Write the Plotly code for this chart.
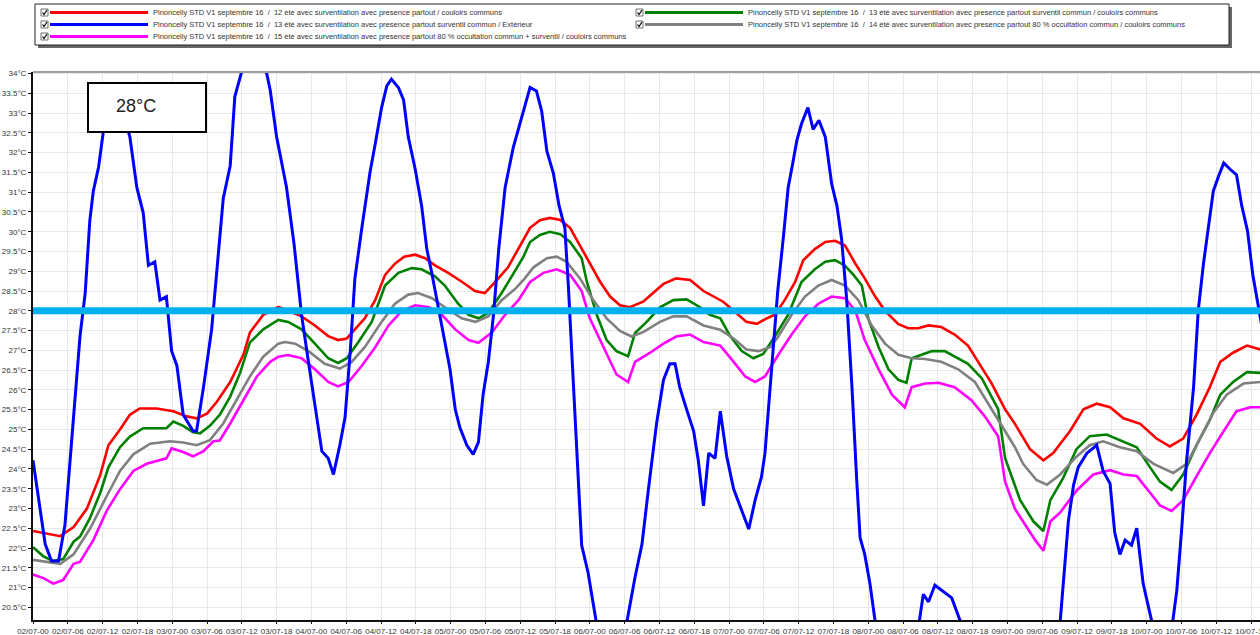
import pandas as pd
import plotly.graph_objects as go

# ---------------- data (hours since 02/07 00:00, temperature in °C) ----------------
START = pd.Timestamp("2016-07-02 00:00")
X_END_HOURS = 211.55
Y_MIN, Y_MAX = 20.18, 34.04
THRESHOLD = 28.0
THRESHOLD_LABEL = "28°C"

name_red = "Pinoncelly STD V1 septembre 16\u00a0 /\u00a0 12 été avec surventilation avec presence partout / couloirs communs"
name_blue = "Pinoncelly STD V1 septembre 16\u00a0 /\u00a0 13 été avec surventilation avec presence partout surventil commun / Extérieur"
name_magenta = "Pinoncelly STD V1 septembre 16\u00a0 /\u00a0 15 été avec surventilation avec presence partout 80 % occultation commun + surventil / couloirs communs"
name_green = "Pinoncelly STD V1 septembre 16\u00a0 /\u00a0 13 été avec surventilation avec presence partout surventil commun / couloirs communs"
name_gray = "Pinoncelly STD V1 septembre 16\u00a0 /\u00a0 14 été avec surventilation avec presence partout 80 % occultation commun / couloirs communs"

red_points = [(0, 22.43), (2.9, 22.34), (4.7, 22.30), (7.0, 22.53), (9.3, 23.0), (11.6, 23.85), (13.0, 24.6),
              (15.0, 25.0), (16.7, 25.37), (18.4, 25.53), (21.3, 25.53), (24.2, 25.46), (26.5, 25.33), (28.2, 25.28),
              (30.0, 25.4), (31.7, 25.7), (34.0, 26.2), (36.3, 26.9), (37.4, 27.45), (39.7, 27.9), (42.3, 28.1),
              (44.0, 28.0), (46.3, 27.86), (48.6, 27.63), (50.9, 27.36), (52.6, 27.26), (54.1, 27.3), (55.5, 27.53),
              (57.2, 27.81), (59.0, 28.27), (60.7, 28.91), (62.4, 29.19), (64.0, 29.37), (65.9, 29.42), (67.6, 29.33),
              (69.3, 29.15), (71.6, 28.96), (74.0, 28.73), (76.2, 28.5), (77.9, 28.45), (79.7, 28.73), (81.9, 29.1),
              (83.7, 29.56), (85.7, 30.1), (87.4, 30.29), (89.1, 30.35), (90.9, 30.3), (92.6, 30.1), (94.3, 29.65),
              (96.0, 29.19), (97.8, 28.73), (99.5, 28.36), (101.2, 28.14), (102.9, 28.09), (105.2, 28.23), (106.9, 28.45),
              (108.7, 28.68), (110.9, 28.82), (113.3, 28.78), (115.6, 28.5), (117.3, 28.36), (119.0, 28.23), (120.8, 28.0),
              (123.0, 27.72), (124.8, 27.67), (126.5, 27.81), (127.9, 27.9), (129.6, 28.27), (131.4, 28.73), (132.8, 29.28),
              (134.8, 29.56), (136.6, 29.74), (138.3, 29.77), (140.0, 29.65), (141.8, 29.19), (143.4, 28.82), (145.2, 28.36),
              (146.9, 28.0), (149.2, 27.66), (150.9, 27.56), (152.6, 27.56), (154.4, 27.63), (156.6, 27.59), (158.9, 27.4),
              (161.2, 27.12), (163.0, 26.71), (165.3, 26.16), (167.6, 25.51), (169.3, 25.14), (171.9, 24.5), (174.2, 24.22),
              (175.9, 24.4), (178.8, 24.96), (181.1, 25.51), (183.4, 25.65), (185.7, 25.56), (188.0, 25.28), (190.9, 25.14),
              (193.7, 24.77), (196.0, 24.57), (198.3, 24.77), (200.6, 25.37), (202.9, 26.07), (204.7, 26.71), (206.9, 26.94),
              (209.3, 27.12), (211.6, 27.02)]

green_points = [(0, 22.02), (1.8, 21.79), (3.5, 21.67), (5.2, 21.72), (7.0, 22.16), (8.1, 22.29), (9.8, 22.75),
                (11.6, 23.4), (13.0, 24.04), (15.0, 24.55), (16.7, 24.82), (19.0, 25.03), (23.0, 25.03), (24.2, 25.2),
                (25.9, 25.09), (27.6, 24.93), (28.8, 24.9), (30.5, 25.09), (32.2, 25.37), (34.0, 25.83), (35.7, 26.43),
                (37.4, 27.2), (39.7, 27.53), (42.3, 27.77), (44.0, 27.72), (46.3, 27.53), (48.6, 27.17), (50.9, 26.8),
                (52.6, 26.68), (54.1, 26.8), (56.1, 27.21), (58.4, 27.72), (60.7, 28.64), (63.0, 28.96), (65.3, 29.08),
                (67.0, 29.05), (69.3, 28.87), (71.0, 28.64), (73.3, 28.18), (75.1, 27.9), (76.8, 27.81), (78.5, 27.95),
                (80.8, 28.45), (83.1, 29.0), (84.5, 29.35), (85.7, 29.74), (87.4, 29.92), (89.1, 30.0), (90.9, 29.94),
                (92.6, 29.74), (94.6, 29.33), (95.5, 28.73), (97.2, 27.9), (98.9, 27.26), (100.6, 26.98), (102.6, 26.85),
                (103.8, 27.44), (105.8, 27.72), (108.1, 28.09), (110.4, 28.27), (112.7, 28.29), (115.0, 28.09), (116.7, 27.9),
                (118.5, 27.81), (120.2, 27.36), (122.2, 26.98), (124.2, 26.8), (125.9, 26.91), (127.9, 27.35), (130.2, 27.9),
                (132.5, 28.73), (134.8, 29.05), (136.6, 29.24), (138.3, 29.28), (140.0, 29.14), (141.4, 28.92), (142.9, 28.64),
                (144.0, 27.81), (145.8, 27.08), (147.5, 26.52), (149.2, 26.25), (150.6, 26.18), (151.5, 26.8), (153.2, 26.89),
                (155.0, 26.98), (157.2, 26.98), (158.9, 26.85), (161.2, 26.66), (163.6, 26.29), (166.4, 25.51), (167.6, 24.27),
                (168.4, 23.95), (170.2, 23.21), (172.5, 22.67), (174.2, 22.43), (175.4, 23.21), (177.6, 23.77), (179.9, 24.5),
                (182.2, 24.83), (185.1, 24.87), (188.0, 24.68), (190.3, 24.55), (192.6, 24.04), (194.3, 23.68), (196.3, 23.47),
                (198.3, 23.86), (200.6, 24.6), (202.9, 25.24), (204.7, 25.88), (206.9, 26.2), (209.3, 26.45), (211.6, 26.43)]

gray_points = [(0, 21.7), (2.4, 21.65), (4.7, 21.6), (7.0, 21.84), (9.8, 22.48), (12.7, 23.31), (15.0, 23.95),
               (17.3, 24.37), (20.2, 24.64), (23.6, 24.7), (25.9, 24.67), (28.2, 24.6), (30.5, 24.73), (32.8, 25.15),
               (35.1, 25.74), (37.4, 26.34), (39.7, 26.84), (42.3, 27.17), (43.4, 27.21), (45.2, 27.17), (47.5, 26.98),
               (50.3, 26.66), (52.9, 26.54), (54.9, 26.7), (57.2, 27.08), (60.1, 27.72), (62.4, 28.18), (64.7, 28.41),
               (66.4, 28.45), (68.8, 28.32), (71.0, 28.09), (73.9, 27.81), (76.3, 27.72), (78.5, 27.86), (80.8, 28.27),
               (83.1, 28.55), (84.8, 28.82), (86.3, 29.1), (88.6, 29.33), (90.3, 29.37), (92.0, 29.24), (94.3, 28.82),
               (96.6, 28.27), (98.9, 27.81), (101.2, 27.49), (103.2, 27.35), (105.2, 27.46), (108.1, 27.72), (110.4, 27.86),
               (112.7, 27.86), (115.6, 27.63), (118.5, 27.52), (120.8, 27.3), (123.0, 27.02), (125.1, 26.98), (127.1, 27.08),
               (128.5, 27.35), (130.8, 27.9), (133.1, 28.36), (135.4, 28.64), (137.7, 28.78), (140.0, 28.64), (142.3, 28.27),
               (144.6, 27.63), (146.9, 27.17), (149.2, 26.89), (151.5, 26.8), (153.8, 26.78), (156.6, 26.71), (159.5, 26.52),
               (162.4, 26.2), (165.3, 25.51), (167.6, 24.96), (169.3, 24.55), (170.7, 24.13), (173.0, 23.72), (174.8, 23.6),
               (177.1, 23.86), (179.9, 24.31), (182.2, 24.6), (184.5, 24.7), (187.4, 24.55), (190.3, 24.45), (193.2, 24.13),
               (196.6, 23.9), (198.9, 24.13), (201.2, 24.77), (203.5, 25.42), (205.8, 25.88), (208.7, 26.16), (211.6, 26.2)]

magenta_points = [(0, 21.33), (1.8, 21.24), (3.5, 21.1), (5.2, 21.19), (7.0, 21.6), (8.1, 21.65), (10.4, 22.2),
                  (12.7, 22.94), (15.0, 23.49), (17.3, 23.95), (19.6, 24.13), (23.0, 24.27), (23.9, 24.52), (25.9, 24.43),
                  (27.6, 24.32), (29.4, 24.45), (31.1, 24.7), (32.2, 24.72), (34.0, 25.15), (36.3, 25.74), (38.6, 26.34),
                  (40.9, 26.71), (42.3, 26.84), (44.0, 26.88), (46.3, 26.8), (48.6, 26.52), (50.9, 26.2), (52.6, 26.09),
                  (54.4, 26.2), (56.7, 26.61), (59.0, 27.08), (61.3, 27.63), (63.6, 28.0), (65.9, 28.14), (68.3, 28.09),
                  (70.5, 27.9), (72.8, 27.53), (75.1, 27.26), (76.8, 27.19), (79.1, 27.45), (81.4, 27.9), (83.7, 28.27),
                  (85.7, 28.73), (88.0, 28.96), (90.3, 29.05), (92.6, 28.91), (94.6, 28.5), (96.0, 27.81), (98.3, 27.08),
                  (100.6, 26.39), (102.6, 26.2), (103.8, 26.71), (106.4, 26.94), (108.7, 27.17), (110.9, 27.35), (113.3, 27.4),
                  (115.6, 27.21), (118.5, 27.12), (120.8, 26.71), (122.8, 26.34), (124.5, 26.2), (126.2, 26.34), (128.5, 26.89),
                  (130.8, 27.4), (133.1, 27.86), (135.4, 28.18), (137.7, 28.36), (140.0, 28.32), (141.8, 28.0), (143.4, 27.26),
                  (145.8, 26.52), (148.1, 25.88), (150.3, 25.56), (151.5, 26.07), (153.8, 26.16), (156.1, 26.18), (158.9, 26.07),
                  (161.8, 25.74), (164.1, 25.33), (166.4, 24.83), (167.6, 23.68), (169.3, 22.99), (170.7, 22.67), (172.8, 22.2),
                  (174.2, 21.93), (175.4, 22.67), (177.1, 22.9), (179.9, 23.45), (182.8, 23.86), (185.7, 23.97), (188.0, 23.86),
                  (190.3, 23.82), (192.6, 23.4), (194.3, 23.08), (196.3, 22.94), (198.3, 23.21), (200.6, 23.81), (202.9, 24.4),
                  (205.3, 24.96), (207.5, 25.46), (209.9, 25.56), (211.6, 25.56)]

blue_points = [(0, 24.22), (0.9, 23.3), (2.1, 22.1), (3.2, 21.67), (4.4, 21.67), (5.5, 22.57), (6.7, 24.78),
               (7.5, 26.07), (8.1, 27.35), (9.0, 28.45), (9.8, 30.29), (10.4, 31.03), (11.3, 31.63), (12.1, 32.5),
               (13.5, 33.2), (15.3, 33.1), (16.7, 32.4), (17.9, 31.12), (19.0, 30.48), (19.9, 29.15), (21.0, 29.24),
               (21.9, 28.27), (23.0, 28.36), (23.9, 26.98), (24.8, 26.62), (25.9, 25.37), (27.6, 24.96), (28.2, 24.96),
               (29.4, 26.07), (30.8, 27.53), (32.8, 30.84), (34.0, 31.67), (34.8, 33.42), (36.0, 34.06), (38.0, 34.6),
               (40.3, 34.0), (40.9, 33.58), (42.0, 32.4), (43.7, 31.13), (45.0, 29.7), (46.3, 27.9), (47.5, 26.7),
               (48.6, 25.6), (49.8, 24.45), (50.9, 24.27), (51.8, 23.86), (52.9, 24.6), (53.8, 25.3), (54.7, 26.98),
               (55.5, 28.82), (56.7, 30.1), (58.1, 31.5), (59.0, 32.22), (60.1, 33.14), (61.0, 33.69), (61.8, 33.86),
               (63.0, 33.65), (63.9, 33.33), (64.7, 32.4), (65.9, 31.58), (67.0, 30.66), (67.9, 29.56), (68.7, 29.0),
               (69.9, 28.09), (71.1, 27.17), (71.9, 26.52), (72.8, 25.51), (73.6, 25.05), (74.8, 24.6), (75.9, 24.37),
               (76.8, 24.68), (77.6, 25.88), (78.5, 26.7), (79.4, 27.9), (80.3, 29.56), (81.4, 31.12), (82.8, 32.13),
               (84.0, 32.77), (84.8, 33.23), (85.7, 33.65), (86.8, 33.56), (87.7, 33.05), (88.6, 32.04), (89.7, 31.49),
               (90.7, 30.66), (91.7, 30.1), (92.3, 28.64), (93.2, 26.07), (94.0, 23.77), (94.6, 22.07), (95.7, 21.38),
               (97.1, 20.14), (99.7, 19.4), (102.4, 20.14), (103.8, 21.26), (105.0, 22.1), (106.1, 23.48), (107.5, 25.14),
               (108.7, 26.25), (109.8, 26.66), (110.7, 26.66), (111.5, 26.07), (112.7, 25.5), (113.9, 24.96), (114.7, 24.22),
               (115.6, 23.07), (116.5, 24.4), (117.6, 24.27), (118.5, 25.46), (119.6, 24.32), (120.8, 23.49), (121.9, 23.07),
               (123.4, 22.48), (124.5, 23.21), (125.6, 23.8), (126.2, 24.4), (127.2, 26.2), (128.4, 28.5), (129.4, 29.9),
               (130.2, 31.12), (130.8, 31.58), (131.7, 32.31), (132.5, 32.73), (133.6, 33.14), (134.5, 32.59), (135.5, 32.82),
               (136.6, 32.4), (137.7, 31.21), (138.6, 30.66), (139.4, 29.83), (140.3, 28.27), (141.2, 26.07), (142.0, 23.77),
               (142.6, 22.26), (143.4, 21.84), (144.3, 21.1), (145.2, 20.14), (149.0, 19.3), (152.8, 20.14), (153.5, 20.83),
               (154.4, 20.64), (155.5, 21.06), (158.4, 20.74), (159.8, 20.18), (165.0, 18.8), (172.0, 18.8), (177.1, 20.14),
               (177.9, 21.47), (178.5, 22.67), (179.4, 23.59), (180.2, 24.04), (181.7, 24.4), (183.4, 24.6), (184.5, 23.95),
               (185.7, 23.63), (186.5, 22.39), (187.4, 21.84), (188.3, 22.2), (189.4, 22.07), (190.3, 22.5), (191.4, 21.1),
               (192.9, 20.14), (194.7, 19.5), (196.5, 20.14), (197.2, 20.92), (198.0, 22.39), (198.9, 24.22), (200.1, 26.07),
               (200.9, 28.0), (201.8, 29.19), (202.7, 30.1), (203.5, 31.03), (204.4, 31.4), (205.3, 31.74), (206.4, 31.58),
               (207.5, 31.44), (208.4, 30.66), (209.4, 30.02), (210.3, 28.92), (211.3, 28.14), (212.0, 27.5)]

# ---------------- figure ----------------
W, H = 1260, 635
ML, MR, MT, MB = 33, 0, 72, 15
PW, PH = W - ML - MR, H - MT - MB


def px(x):
    return (x - ML) / PW


def py(y):
    return (H - MB - y) / PH


def to_xy(points):
    xs = [START + pd.Timedelta(hours=h) for h, _ in points]
    ys = [t for _, t in points]
    return xs, ys


series = [
    (red_points, "#ff0000", 2.6, name_red),
    (green_points, "#008000", 2.6, name_green),
    (gray_points, "#808080", 2.6, name_gray),
    (magenta_points, "#ff00ff", 2.6, name_magenta),
    (blue_points, "#0000ff", 3.0, name_blue),
]

fig = go.Figure()
for pts, color, width, nm in series:
    xs, ys = to_xy(pts)
    fig.add_trace(go.Scatter(x=xs, y=ys, mode="lines", name=nm,
                             line=dict(color=color, width=width), showlegend=False))

TXT = "#333333"
FONT = "Liberation Sans, Arial, sans-serif"

fig.update_layout(
    width=W, height=H,
    margin=dict(l=ML, r=MR, t=MT, b=MB, pad=0, autoexpand=False),
    plot_bgcolor="white", paper_bgcolor="white",
    showlegend=False,
    font=dict(family=FONT, size=8, color=TXT),
    xaxis=dict(
        type="date", automargin=False,
        range=[START, START + pd.Timedelta(hours=X_END_HOURS)],
        tick0=START, dtick=6 * 3600 * 1000, tickformat="%d/%m-%H",
        tickangle=0, ticklabeloverflow="allow",
        showgrid=True, gridcolor="#e8e8e8", gridwidth=1,
        showline=True, linecolor="#111111", linewidth=2,
        ticks="outside", ticklen=2, tickcolor="#111111",
        tickfont=dict(size=8, color=TXT, family=FONT),
        zeroline=False,
    ),
    yaxis=dict(
        automargin=False,
        range=[Y_MIN, Y_MAX], tick0=20, dtick=0.5, ticksuffix="°C",
        showgrid=True, gridcolor="#e8e8e8", gridwidth=1,
        showline=True, linecolor="#111111", linewidth=2,
        ticks="outside", ticklen=3, tickcolor="#111111",
        tickfont=dict(size=8, color=TXT, family=FONT),
        zeroline=False,
    ),
)

shapes = []
# top border of plot
shapes.append(dict(type="line", xref="paper", yref="paper", x0=0, x1=1, y0=1, y1=1,
                   line=dict(color="#a0a0a0", width=2)))
# threshold line
shapes.append(dict(type="line", xref="paper", yref="y", x0=0, x1=1, y0=THRESHOLD, y1=THRESHOLD,
                   line=dict(color="#00b0f0", width=7)))
# threshold label box
shapes.append(dict(type="rect", xref="paper", yref="paper", x0=px(88), x1=px(206), y0=py(132), y1=py(83),
                   line=dict(color="#000000", width=2), fillcolor="white"))

# legend frame with shadow
shapes.append(dict(type="rect", xref="paper", yref="paper", x0=px(38), x1=px(1232), y0=py(48), y1=py(7),
                   line=dict(width=0), fillcolor="#666666"))
shapes.append(dict(type="rect", xref="paper", yref="paper", x0=px(35), x1=px(1229), y0=py(45), y1=py(4),
                   line=dict(color="#222222", width=1), fillcolor="white"))

annotations = [dict(xref="paper", yref="paper", x=px(136), y=py(106), text=THRESHOLD_LABEL,
                    showarrow=False, xanchor="center", yanchor="middle",
                    font=dict(family=FONT, size=18, color="#222222"))]

legend_items = [
    (name_red, "#ff0000", 41, 12.5),
    (name_blue, "#0000ff", 41, 24.5),
    (name_magenta, "#ff00ff", 41, 36.5),
    (name_green, "#008000", 636, 12.5),
    (name_gray, "#808080", 636, 24.5),
]
for nm, color, x0, yrow in legend_items:
    # checkbox
    shapes.append(dict(type="rect", xref="paper", yref="paper", x0=px(x0), x1=px(x0 + 7),
                       y0=py(yrow + 3.5), y1=py(yrow - 3.5),
                       line=dict(color="#707070", width=1), fillcolor="white"))
    shapes.append(dict(type="path", xref="paper", yref="paper",
                       path="M %f,%f L %f,%f L %f,%f" % (px(x0 + 1.5), py(yrow), px(x0 + 3), py(yrow + 2),
                                                         px(x0 + 6), py(yrow - 2.5)),
                       line=dict(color="#000000", width=1.2)))
    # sample line
    shapes.append(dict(type="line", xref="paper", yref="paper", x0=px(x0 + 9), x1=px(x0 + 107),
                       y0=py(yrow), y1=py(yrow), line=dict(color=color, width=3)))
    annotations.append(dict(xref="paper", yref="paper", x=px(x0 + 110), y=py(yrow), text=nm,
                            showarrow=False, xanchor="left", yanchor="middle",
                            font=dict(family=FONT, size=7.5, color="#333333")))

fig.update_layout(shapes=shapes, annotations=annotations)
fig.write_html("out.html", config={"displayModeBar": False})

# remove the browser's default page margin so the figure sits at the window origin
with open("out.html", "r", encoding="utf-8") as f:
    html = f.read()
html = html.replace("<head>", "<head><style>html,body{margin:0;padding:0;overflow:hidden;}</style>", 1)
with open("out.html", "w", encoding="utf-8") as f:
    f.write(html)
